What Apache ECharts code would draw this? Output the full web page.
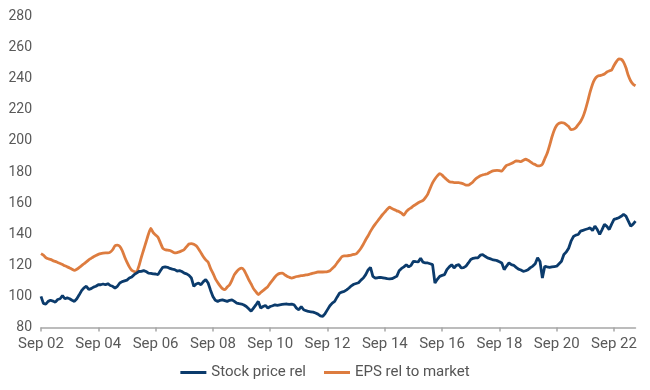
<!DOCTYPE html>
<html>
<head>
<meta charset="utf-8">
<script src="https://cdn.jsdelivr.net/npm/echarts@6/dist/echarts.min.js"></script>
<style>html,body{margin:0;padding:0;background:#fff}#chart{width:650px;height:390px}</style>
</head>
<body>
<div id="chart"></div>
<script>
// Monthly observations, Sep 2002 .. Jun 2023
const startYear = 2002, startMonth = 8; // Sep
const monthNames = ['Jan','Feb','Mar','Apr','May','Jun','Jul','Aug','Sep','Oct','Nov','Dec'];
const tickLabels = ['Sep 02','Sep 04','Sep 06','Sep 08','Sep 10','Sep 12','Sep 14','Sep 16','Sep 18','Sep 20','Sep 22'];
const yTicks = [80,100,120,140,160,180,200,220,240,260,280];

const stockPriceRel = [
100,95.5,95,96.8,97.5,97,96.3,98,98.5,100.5,98.5,99,
98.5,97.5,96.8,98.5,101,103.7,105.5,106.5,104.5,105,106,106.5,
107.5,107.5,108,107.5,108.2,107,106.5,105.4,106.5,108.6,109.5,110,
110.5,111.8,112.5,114,115,116,116.1,116.6,116,115,114.8,114.5,
114.4,114,116.5,118.7,119,118.7,118,117.5,117.2,116.3,116.6,116,
115,114.5,113.5,111.8,106.5,108,108.6,107.5,109.5,110.8,108.6,104,
100,97.5,96.8,97.5,97.8,97.3,96.8,97.5,97.8,96.8,95.7,95.3,
95.1,94.5,93.5,92,90.5,92.5,94.5,96.8,92.5,93.5,94.2,92.5,
93.5,94,94.6,94.3,94.6,94.8,95,95.1,94.8,95.1,94.6,92.5,
91.4,93.5,91.4,90.8,90.3,90.1,89.9,89.3,88.6,87.5,87.1,89,
91.5,94,95.7,96.8,99.5,102,102.8,103.2,104.2,105.4,106.8,107.8,
108.3,108.8,110.5,111.8,114,117,118.7,112.9,111.8,112,112.3,112,
111.8,111.4,111.2,111.4,112.2,112.9,116.5,118,119,120.4,119,120,
122.6,122.3,122.2,124.5,122,121.5,121.5,121,120.4,108.6,111,112.9,
113.5,114,117.2,119,120.4,118.3,120,120.4,118.3,118.5,119.5,121.5,
123.7,124.5,124.8,124.8,126.5,126.9,125.8,124.8,124.3,123.7,123.4,123,
122.3,121.5,117.2,119.5,121.5,120.4,120,118.7,117.5,117,116.1,116.5,
117.2,118.5,119.5,121,124.8,122.5,111.8,119.4,119,118.7,119,119.2,
119.4,121,122.6,127,128.5,131,135.5,138.5,139.4,139.8,142,142.5,
143,143.5,144.1,142.4,145.2,143,139.8,143,146.3,145,143,146.5,
149.5,150,150.6,151.5,152.7,151.6,148.4,145.2,146.5,148.4
];

const epsRelToMarket = [
127.5,126.5,125,124.2,123.8,123,122.5,121.8,121.2,120.5,119.7,119,
118.3,117.5,116.8,117.5,118.6,119.8,121,122.2,123.5,124.5,125.5,126.3,
127,127.5,127.8,128,128,128.5,130,132.5,133,132.2,129.5,125.5,
122,119,116.8,116,115.7,119.5,125,130,135,140,143.7,141,
139.5,138,134.5,131,130,129.8,129.5,128.7,128,128.2,128.6,129.3,
130.2,132,133.7,134,133.5,132.5,130.5,128,125.5,123.5,122,118,
115,111.5,109,106.8,105,104.3,106,107.5,110.5,114,116,117.5,
118.2,117,114,110.8,108,105,103,101.2,102.5,103.7,105,106.3,
108.5,110.5,112.5,114,114.8,115,114,113,112.3,111.8,112.2,112.8,
113,113.3,113.5,113.8,114,114.5,115,115.3,115.7,115.7,115.7,115.8,
116,116.5,118,119.4,121.5,123.5,125.5,126,126.1,126.3,126.6,127,
127.3,129,131,133.5,136.4,139,141.8,144.3,146.5,148.5,150.5,152.5,
154.2,156,157.4,156.5,155.8,155,154.5,153.5,152.3,154.5,156,157,
158.2,159.2,160.2,161,161.7,163.5,165.8,169.5,173,175.5,177.5,178.9,
178,176.4,175,173.8,173.5,173.2,173.2,173.2,172.8,172.3,171.5,171.5,
172.5,173.8,175.5,176.6,177.6,178.1,178.5,178.9,179.8,180.6,180.9,181.1,
180.9,180.6,182.5,184.2,184.8,185.4,186.3,187.1,187,186.7,187.5,188.2,
187.5,186.5,185.4,184.8,183.9,184,185,188.5,192,197,202.5,207,
210,211.3,211.8,211.5,210.5,209.2,207.3,207.5,208.5,210.5,212.5,215.5,
220,225.5,231.5,236.5,239.8,241.5,242,242.4,243,244.3,245,245.6,
248.5,251,252.7,252.5,250.7,247,242,238.5,236.5,235.5
];

const months = [];
for (let i = 0; i < stockPriceRel.length; i++) {
  const mi = startMonth + i;
  const y = startYear + Math.floor(mi / 12);
  months.push(monthNames[mi % 12] + ' ' + String(y % 100).padStart(2, '0'));
}

const chart = echarts.init(document.getElementById('chart'));
const font = 'Roboto, "Liberation Sans", Arial, sans-serif';
chart.setOption({
  animation: false,
  textStyle: { fontFamily: font },
  grid: { left: 41, right: 14.5, top: 16.5, bottom: 62.5, containLabel: false },
  legend: {
    bottom: 5,
    left: 'center',
    icon: 'rect',
    itemWidth: 26,
    itemHeight: 3,
    itemGap: 18,
    textStyle: { fontSize: 15, color: '#555', fontFamily: font },
    data: ['Stock price rel', 'EPS rel to market']
  },
  xAxis: {
    type: 'category',
    data: months,
    boundaryGap: false,
    axisLine: { lineStyle: { color: '#a6a6a6', width: 1.5 } },
    axisTick: { length: 4, lineStyle: { color: '#a6a6a6', width: 1.5 }, interval: function (i) { return i % 24 === 0; } },
    axisLabel: {
      interval: function (i) { return i % 24 === 0; },
      formatter: function (v, i) { return tickLabels[i / 24]; },
      fontSize: 15, color: '#595959', margin: 9, fontFamily: font
    },
    splitLine: { show: false }
  },
  yAxis: {
    type: 'value',
    min: yTicks[0],
    max: yTicks[yTicks.length - 1],
    interval: 20,
    axisLine: { show: false },
    axisTick: { show: false },
    splitLine: { show: false },
    axisLabel: { fontSize: 14, color: '#595959', margin: 9, fontFamily: font }
  },
  series: [
    {
      name: 'Stock price rel', type: 'line', data: stockPriceRel,
      showSymbol: false, symbol: 'none',
      lineStyle: { color: '#0b3b6c', width: 2.8 },
      itemStyle: { color: '#0b3b6c' }, z: 3
    },
    {
      name: 'EPS rel to market', type: 'line', data: epsRelToMarket,
      showSymbol: false, symbol: 'none', smooth: 0.2,
      lineStyle: { color: '#dd7c3f', width: 2.8 },
      itemStyle: { color: '#dd7c3f' }, z: 2
    }
  ]
});
</script>
</body>
</html>
